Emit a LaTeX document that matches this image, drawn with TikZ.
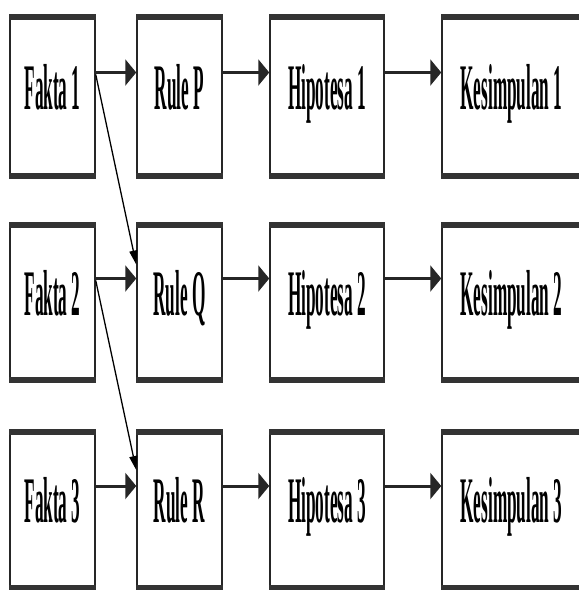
\documentclass[tikz,border=0pt]{standalone}
\usepackage{fontspec}
\setmainfont{Liberation Serif}
\usetikzlibrary{arrows.meta}
\newcommand{\sqtext}[1]{\scalebox{0.265}[1]{\fontsize{65}{70}\selectfont\bfseries #1}}
\tikzset{
  cell/.style={draw=black!85, line width=1.5pt, inner sep=0pt, text depth=20pt, anchor=center},
  band/.style={line width=6pt, black!80},
  flow/.style={line width=3pt, black!85, -{Triangle[length=11pt,width=26pt]}},
  cross/.style={line width=1.3pt, black, -{Triangle[length=14pt,width=8pt]}}
}
\begin{document}
\begin{tikzpicture}[x=1pt,y=-1pt]
\clip (0,0) rectangle (579,590);
\fill[white] (0,0) rectangle (579,590);
% column geometry: Fakta 10-95, Rule 137-222, Hipotesa 270-384, Kesimpulan 442-581
% row geometry: 17-176, 225-380, 432-588
\foreach \r/\yt/\yb/\rl in {1/17/176/P, 2/225/380/Q, 3/432/588/R} {
  \pgfmathsetmacro{\yc}{(\yt+\yb)/2}
  \pgfmathsetmacro{\hh}{\yb-\yt}
  \node[cell, minimum width=85pt, minimum height=\hh pt] (F\r) at (52.5,\yc) {\sqtext{Fakta \r}};
  \node[cell, minimum width=85pt, minimum height=\hh pt] (R\r) at (179.5,\yc) {\sqtext{Rule \rl}};
  \node[cell, minimum width=114pt, minimum height=\hh pt] (H\r) at (327,\yc) {\sqtext{Hipotesa \r}};
  \node[cell, minimum width=139pt, minimum height=\hh pt] (K\r) at (511.5,\yc) {\sqtext{Kesimpulan \r}};
  \foreach \n in {F,R,H,K} {
    \draw[band] ([yshift=-1pt]\n\r.north west) -- ([yshift=-1pt]\n\r.north east);
    \draw[band] ([yshift=1pt]\n\r.south west) -- ([yshift=1pt]\n\r.south east);
  }
}
% row arrows
\foreach \r in {1,2,3} {
  \draw[flow] ([yshift=24pt]F\r.east) -- ([yshift=24pt]R\r.west);
  \draw[flow] ([yshift=24pt]R\r.east) -- ([yshift=24pt]H\r.west);
  \draw[flow] ([yshift=24pt]H\r.east) -- ([yshift=24pt]K\r.west);
}
% cross arrows
\draw[cross] ([yshift=22pt]F1.east) -- ([yshift=38pt]R2.west);
\draw[cross] ([yshift=22pt]F2.east) -- ([yshift=40pt]R3.west);
\end{tikzpicture}
\end{document}
